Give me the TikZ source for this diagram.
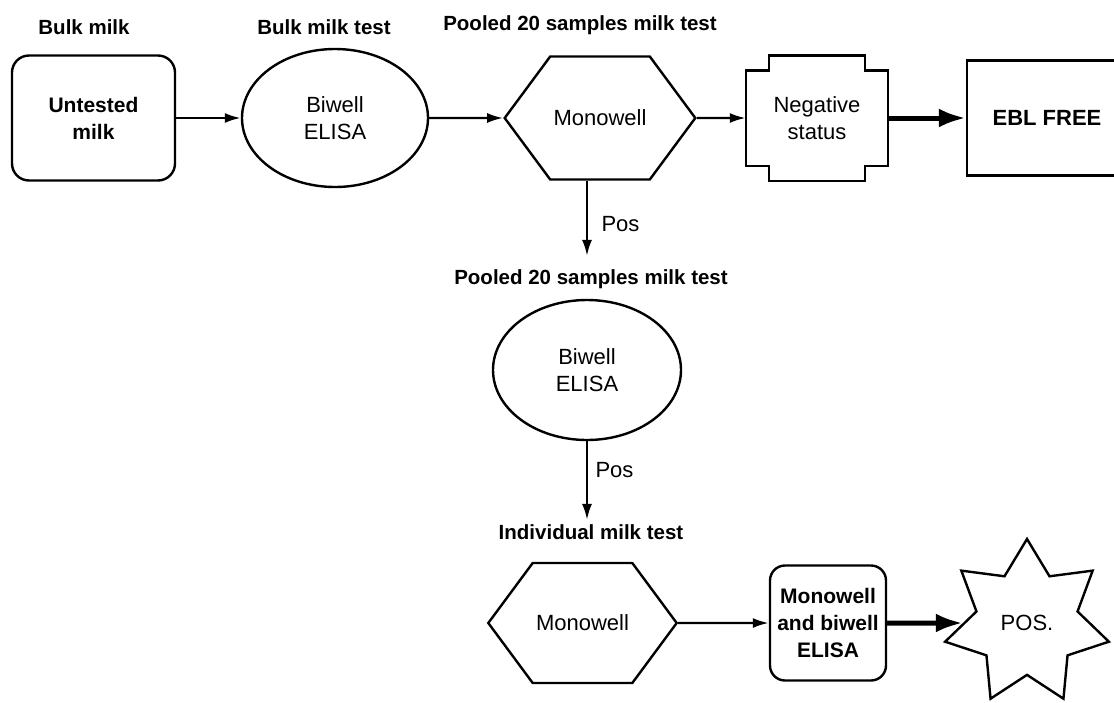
\documentclass[tikz,border=0pt]{standalone}
\usepackage{fontspec}
\setmainfont{Liberation Sans}
\usetikzlibrary{shapes.geometric}
\usetikzlibrary{shapes.symbols}
\usetikzlibrary{arrows.meta}

\begin{document}
\begin{tikzpicture}[x=1pt, y=-1pt, line width=2.4pt,
    every node/.style={align=center, font=\fontsize{22}{27}\selectfont},
    title/.style={font=\bfseries\fontsize{20.5}{24}\selectfont},
    roundbox/.style={draw, rounded corners=17pt, inner sep=2pt,
      minimum width=163pt, minimum height=125pt,
      font=\bfseries\fontsize{21}{27}\selectfont},
    oval/.style={draw, ellipse, minimum width=186pt, minimum height=138pt},
    hexa/.style={draw, signal, signal to=west and east, signal pointer angle=107,
      minimum width=186pt, minimum height=123pt},
    arr/.style={-{Latex[length=16pt,width=10pt]}},
    fatarr/.style={line width=5pt, -{Latex[length=27pt,width=19pt]}}]

  \useasboundingbox (0,0) rectangle (1114,702);

  % stage titles
  \node[title] (bulk) at (84,27) {Bulk milk};
  \node[title] (bulktest) at (324,27) {Bulk milk test};
  \node[title] (pool1) at (580,25) {Pooled 20 samples milk test};
  \node[title] (pool2) at (591,279) {Pooled 20 samples milk test};
  \node[title] (ind) at (591,532) {Individual milk test};

  % top row
  \node[roundbox] (untested) at (93.5,118) {Untested\\milk};
  \node[oval] (bi1) at (335,118) {Biwell\\ELISA};
  \node[hexa] (mono1) at (600,118) {Monowell};
  \node[minimum width=140pt, minimum height=123pt] (neg) at (817,118) {Negative\\status};
  \draw ([yshift=-15pt]neg.north west) -| ([xshift=23pt]neg.north west)
    -- ([xshift=-23pt]neg.north east) |- ([yshift=-15pt]neg.north east)
    -- ([yshift=15pt]neg.south east) -| ([xshift=-23pt]neg.south east)
    -- ([xshift=23pt]neg.south west) |- ([yshift=15pt]neg.south west) -- cycle;
  \node[draw, minimum width=160pt, minimum height=115pt,
    font=\bfseries\fontsize{22}{27}\selectfont] (ebl) at (1047,118) {EBL FREE};

  % second and third stage
  \node[oval, minimum width=188pt, minimum height=140pt] (bi2) at (587,370) {Biwell\\ELISA};
  \node[hexa, minimum width=171pt, minimum height=120pt] (mono2) at (582.5,623) {Monowell};
  \node[roundbox, rounded corners=15pt, minimum width=116pt, minimum height=115pt]
    (both) at (828,623) {Monowell\\and biwell\\ELISA};
  \node[draw, star, star points=7, star point ratio=1.62, minimum size=168pt]
    (pos) at (1027,623) {POS.};

  \draw [arr] (untested) -- (bi1);
  \draw [arr] (bi1) -- (mono1);
  \draw [arr] (mono1) -- (neg);
  \draw [fatarr] (neg) -- (ebl);
  \draw [arr, shorten >=9pt] (mono1.south -| bi2) -- node[right=10pt, pos=.52] {Pos} (bi2 |- pool2.north);
  \draw [arr] (bi2.south) -- node[right=4pt, pos=.37] {Pos} (bi2 |- ind.north);
  \draw [arr] (mono2) -- (both);
  \draw [fatarr] (both) -- (pos);
\end{tikzpicture}
\end{document}
